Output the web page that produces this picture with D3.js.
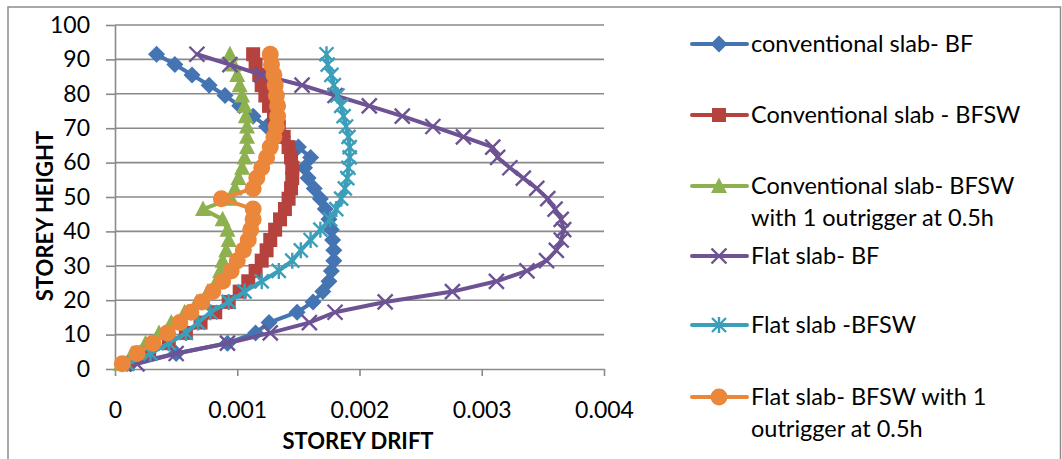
<!DOCTYPE html>
<html><head><meta charset="utf-8">
<script src="https://cdn.jsdelivr.net/npm/d3@7"></script>
<style>
html,body{margin:0;padding:0;background:#fff;}
svg{display:block;font-family:Lato,"Open Sans",sans-serif;}
</style></head>
<body>
<svg id="chart" width="1062" height="459"></svg>
<script>
// ---- data ----
const heights = [1.5,4.5,7.5,10.5,13.5,16.5,19.5,22.5,25.5,28.5,31.5,34.5,37.5,40.5,43.5,46.5,49.5,52.5,55.5,58.5,61.5,64.5,67.5,70.5,73.5,76.5,79.5,82.5,85.5,88.5,91.5];
const convBF = [0.00013,0.0005,0.00092,0.00115,0.00126,0.00149,0.00162,0.0017,0.00175,0.00177,0.00179,0.00179,0.00178,0.00177,0.00175,0.00172,0.00168,0.00163,0.00158,0.00155,0.0016,0.0015,0.00137,0.00124,0.00113,0.00102,0.0009,0.00077,0.00063,0.00049,0.00034];
const convBFSW = [0.0001,0.00028,0.00044,0.00058,0.0007,0.00082,0.00093,0.00102,0.00109,0.00115,0.0012,0.00124,0.00127,0.00131,0.00135,0.00139,0.00142,0.00144,0.00145,0.00145,0.00144,0.00142,0.00138,0.00134,0.0013,0.00126,0.00123,0.0012,0.00118,0.00115,0.00113];
const convOutrigger = [0.00005,0.00014,0.00025,0.00036,0.00046,0.00057,0.00067,0.00076,0.00083,0.00086,0.00088,0.00091,0.00093,0.00092,0.00088,0.00072,0.00095,0.00098,0.00101,0.00104,0.00106,0.00108,0.00108,0.00108,0.00107,0.00106,0.00104,0.00102,0.001,0.00097,0.00094];
const flatBF = [0.00018,0.0005,0.00092,0.00127,0.00159,0.0018,0.00221,0.00276,0.00312,0.00337,0.00353,0.00361,0.00365,0.00367,0.00365,0.0036,0.00354,0.00345,0.00334,0.00323,0.00313,0.00309,0.00285,0.0026,0.00235,0.00208,0.0018,0.00153,0.0012,0.00094,0.00067];
const flatBFSW = [0.0001,0.00029,0.00044,0.00058,0.00068,0.00078,0.00093,0.00106,0.0012,0.00134,0.00145,0.00152,0.0016,0.00168,0.00176,0.00181,0.00185,0.00188,0.0019,0.00191,0.00192,0.00192,0.00191,0.00189,0.00187,0.00185,0.00182,0.00179,0.00177,0.00174,0.00173];
const flatOutrigger = [0.00006,0.00018,0.00031,0.00043,0.00053,0.00062,0.00071,0.0008,0.00088,0.00095,0.001,0.00105,0.00109,0.00111,0.00113,0.00113,0.00087,0.00113,0.00116,0.0012,0.00124,0.00127,0.0013,0.00132,0.00133,0.00133,0.00132,0.00131,0.0013,0.00128,0.00127];
const seriesNames = [
  ["conventional slab- BF"],
  ["Conventional slab - BFSW"],
  ["Conventional slab- BFSW","with 1 outrigger at 0.5h"],
  ["Flat slab- BF"],
  ["Flat slab -BFSW"],
  ["Flat slab- BFSW with 1","outrigger at 0.5h"]
];
const xTicks = [0,0.001,0.002,0.003,0.004];
const yTicks = [0,10,20,30,40,50,60,70,80,90,100];
const xTitle = "STOREY DRIFT";
const yTitle = "STOREY HEIGHT";

// ---- styles ----
const colors = ["#4474B2","#B6423E","#8DB14E","#6D5393","#3C9FBA","#EA873A"];
const markers = ["diamond","square","triangle","x","star","circle"];
const seriesValues = [convBF,convBFSW,convOutrigger,flatBF,flatBFSW,flatOutrigger];

const svg = d3.select("#chart");
const x = d3.scaleLinear().domain([0,0.004]).range([115,604]);
const y = d3.scaleLinear().domain([0,100]).range([369,25]);
const grid = "#8a8a8a";

// outer border
svg.append("rect").attr("x",8).attr("y",7).attr("width",1052.5).attr("height",470)
  .attr("fill","none").attr("stroke","#8c8c8c").attr("stroke-width",1.5);

// gridlines
svg.append("g").selectAll("line").data(yTicks.filter(d=>d>0)).join("line")
  .attr("x1",x(0)).attr("x2",x(0.004)).attr("y1",d=>y(d)).attr("y2",d=>y(d))
  .attr("stroke",grid).attr("stroke-width",1.6);

// axes
const yAxis = svg.append("g").attr("transform",`translate(${x(0)},0)`)
  .call(d3.axisLeft(y).tickValues(yTicks).tickSize(9).tickPadding(16).tickSizeOuter(0));
const xAxis = svg.append("g").attr("transform",`translate(0,${y(0)})`)
  .call(d3.axisBottom(x).tickValues(xTicks).tickSize(7).tickPadding(26).tickSizeOuter(0)
    .tickFormat(d=>d===0?"0":d3.format(".3f")(d)));
[yAxis,xAxis].forEach(a=>{
  a.select(".domain").attr("stroke",grid).attr("stroke-width",1.6);
  a.selectAll(".tick line").attr("stroke",grid).attr("stroke-width",1.6);
  a.selectAll(".tick text").attr("fill","#000").style("font-size","23px").style("font-family","Lato");
});

// axis titles
svg.append("text").attr("x",358).attr("y",449).attr("text-anchor","middle")
  .style("font-size","22px").style("font-weight","bold").text(xTitle);
svg.append("text").attr("transform","translate(53,216) rotate(-90)").attr("text-anchor","middle")
  .style("font-size","22px").style("font-weight","bold").text(yTitle);

function drawMarker(g, type, color){
  if(type==="diamond"){
    g.append("path").attr("d","M0,-8.5L8.5,0L0,8.5L-8.5,0Z").attr("fill",color);
  } else if(type==="square"){
    g.append("rect").attr("x",-7).attr("y",-7).attr("width",14).attr("height",14).attr("fill",color);
  } else if(type==="triangle"){
    g.append("path").attr("d","M0,-8.5L8,7L-8,7Z").attr("fill",color);
  } else if(type==="circle"){
    g.append("circle").attr("r",8.5).attr("fill",color);
  } else if(type==="x"){
    g.append("path").attr("d","M-7.5,-7.5L7.5,7.5M-7.5,7.5L7.5,-7.5").attr("stroke",color).attr("stroke-width",2.4).attr("fill","none");
  } else if(type==="star"){
    g.append("path").attr("d","M-7,-7L7,7M-7,7L7,-7M0,-8L0,8").attr("stroke",color).attr("stroke-width",2.4).attr("fill","none");
  }
}

const line = d3.line().x(d=>x(d[0])).y(d=>y(d[1]));
seriesValues.forEach((vals,i)=>{
  const pts = vals.map((v,j)=>[v,heights[j]]);
  const g = svg.append("g");
  g.append("path").datum(pts).attr("d",line).attr("fill","none")
    .attr("stroke",colors[i]).attr("stroke-width",4).attr("stroke-linejoin","round").attr("stroke-linecap","round");
  pts.forEach(p=>{
    const m = g.append("g").attr("transform",`translate(${x(p[0])},${y(p[1])})`);
    drawMarker(m, markers[i], colors[i]);
  });
});

// legend
const legendY = [44,115,186,256,325,397];
seriesNames.forEach((lines,i)=>{
  const g = svg.append("g").attr("transform",`translate(0,${legendY[i]})`);
  g.append("line").attr("x1",692).attr("x2",747).attr("y1",0).attr("y2",0)
    .attr("stroke",colors[i]).attr("stroke-width",4).attr("stroke-linecap","round");
  drawMarker(g.append("g").attr("transform","translate(719,0)"), markers[i], colors[i]);
  const t = g.append("text").attr("x",751).attr("y",0).style("font-size","23.5px").attr("fill","#000");
  lines.forEach((l,k)=>{
    t.append("tspan").attr("x",751).attr("dy",k===0?"0.35em":"32px").text(l);
  });
});
</script>
</body></html>
